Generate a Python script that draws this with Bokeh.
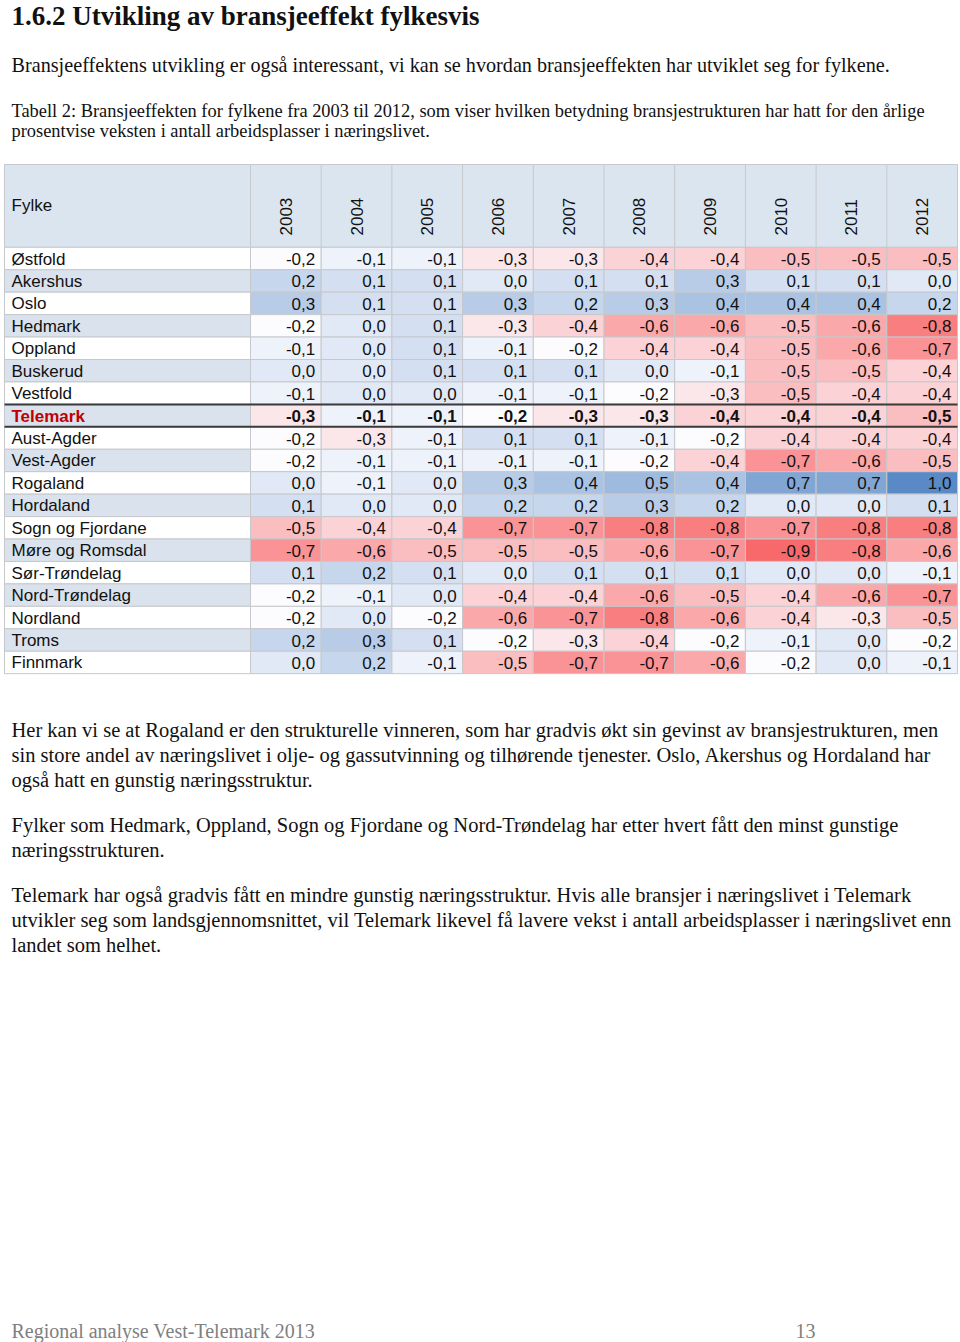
import numpy as np
from bokeh.plotting import figure
from bokeh.models import Range1d
from bokeh.core.properties import value
from bokeh.embed import file_html
from bokeh.resources import INLINE

# ---------------- data ----------------
years = ["2003", "2004", "2005", "2006", "2007", "2008", "2009", "2010", "2011", "2012"]
fylker = ["Østfold", "Akershus", "Oslo", "Hedmark", "Oppland", "Buskerud", "Vestfold",
          "Telemark", "Aust-Agder", "Vest-Agder", "Rogaland", "Hordaland",
          "Sogn og Fjordane", "Møre og Romsdal", "Sør-Trøndelag", "Nord-Trøndelag",
          "Nordland", "Troms", "Finnmark"]

ostfold = [-0.2, -0.1, -0.1, -0.3, -0.3, -0.4, -0.4, -0.5, -0.5, -0.5]
akershus = [0.2, 0.1, 0.1, 0.0, 0.1, 0.1, 0.3, 0.1, 0.1, 0.0]
oslo = [0.3, 0.1, 0.1, 0.3, 0.2, 0.3, 0.4, 0.4, 0.4, 0.2]
hedmark = [-0.2, 0.0, 0.1, -0.3, -0.4, -0.6, -0.6, -0.5, -0.6, -0.8]
oppland = [-0.1, 0.0, 0.1, -0.1, -0.2, -0.4, -0.4, -0.5, -0.6, -0.7]
buskerud = [0.0, 0.0, 0.1, 0.1, 0.1, 0.0, -0.1, -0.5, -0.5, -0.4]
vestfold = [-0.1, 0.0, 0.0, -0.1, -0.1, -0.2, -0.3, -0.5, -0.4, -0.4]
telemark = [-0.3, -0.1, -0.1, -0.2, -0.3, -0.3, -0.4, -0.4, -0.4, -0.5]
aust_agder = [-0.2, -0.3, -0.1, 0.1, 0.1, -0.1, -0.2, -0.4, -0.4, -0.4]
vest_agder = [-0.2, -0.1, -0.1, -0.1, -0.1, -0.2, -0.4, -0.7, -0.6, -0.5]
rogaland = [0.0, -0.1, 0.0, 0.3, 0.4, 0.5, 0.4, 0.7, 0.7, 1.0]
hordaland = [0.1, 0.0, 0.0, 0.2, 0.2, 0.3, 0.2, 0.0, 0.0, 0.1]
sogn_og_fjordane = [-0.5, -0.4, -0.4, -0.7, -0.7, -0.8, -0.8, -0.7, -0.8, -0.8]
more_og_romsdal = [-0.7, -0.6, -0.5, -0.5, -0.5, -0.6, -0.7, -0.9, -0.8, -0.6]
sor_trondelag = [0.1, 0.2, 0.1, 0.0, 0.1, 0.1, 0.1, 0.0, 0.0, -0.1]
nord_trondelag = [-0.2, -0.1, 0.0, -0.4, -0.4, -0.6, -0.5, -0.4, -0.6, -0.7]
nordland = [-0.2, 0.0, -0.2, -0.6, -0.7, -0.8, -0.6, -0.4, -0.3, -0.5]
troms = [0.2, 0.3, 0.1, -0.2, -0.3, -0.4, -0.2, -0.1, 0.0, -0.2]
finnmark = [0.0, 0.2, -0.1, -0.5, -0.7, -0.7, -0.6, -0.2, 0.0, -0.1]

rows = [ostfold, akershus, oslo, hedmark, oppland, buskerud, vestfold, telemark,
        aust_agder, vest_agder, rogaland, hordaland, sogn_og_fjordane, more_og_romsdal,
        sor_trondelag, nord_trondelag, nordland, troms, finnmark]
highlight = "Telemark"

title = "1.6.2 Utvikling av bransjeeffekt fylkesvis"
intro = "Bransjeeffektens utvikling er også interessant, vi kan se hvordan bransjeeffekten har utviklet seg for fylkene."
caption_lines = [
    "Tabell 2: Bransjeeffekten for fylkene fra 2003 til 2012, som viser hvilken betydning bransjestrukturen har hatt for den årlige",
    "prosentvise veksten i antall arbeidsplasser i næringslivet.",
]
para1 = [
    "Her kan vi se at Rogaland er den strukturelle vinneren, som har gradvis økt sin gevinst av bransjestrukturen, men",
    "sin store andel av næringslivet i olje- og gassutvinning og tilhørende tjenester. Oslo, Akershus og Hordaland har",
    "også hatt en gunstig næringsstruktur.",
]
para2 = [
    "Fylker som Hedmark, Oppland, Sogn og Fjordane og Nord-Trøndelag har etter hvert fått den minst gunstige",
    "næringsstrukturen.",
]
para3 = [
    "Telemark har også gradvis fått en mindre gunstig næringsstruktur. Hvis alle bransjer i næringslivet i Telemark",
    "utvikler seg som landsgjennomsnittet, vil Telemark likevel få lavere vekst i antall arbeidsplasser i næringslivet enn",
    "landet som helhet.",
]
footer_left = "Regional analyse Vest-Telemark 2013"
footer_right = "13"

# ---------------- colour scale (red - white - blue, midpoint = median) ----------------
vals = np.array(rows, dtype=float)
vmin, vmax, vmid = vals.min(), vals.max(), float(np.percentile(vals, 50))
C_MIN = np.array([0xF8, 0x69, 0x6B])
C_MID = np.array([0xFC, 0xFC, 0xFF])
C_MAX = np.array([0x5A, 0x8A, 0xC6])


def colour(v):
    if v <= vmid:
        t = (v - vmin) / (vmid - vmin)
        c = C_MIN + (C_MID - C_MIN) * t
    else:
        t = (v - vmid) / (vmax - vmid)
        c = C_MID + (C_MAX - C_MID) * t
    c = np.clip(np.round(c), 0, 255).astype(int)
    return "#%02x%02x%02x" % tuple(c)


def fmt(v):
    s = f"{v:.1f}".replace(".", ",")
    return "0,0" if s == "-0,0" else s


# ---------------- page ----------------
W, H = 960, 1342
p = figure(width=W, height=H, x_range=Range1d(0, W), y_range=Range1d(H, 0),
           output_backend="svg", toolbar_location=None, min_border=0)
p.axis.visible = False
p.grid.visible = False
p.outline_line_color = None
p.background_fill_color = "white"
p.border_fill_color = "white"

SERIF = value("Liberation Serif")
SANS = value("Liberation Sans")
LEFT = 11
INK = "#111111"

# texts above table
p.text(x=[LEFT], y=[15], text=[title], text_font=SERIF, text_font_size="27px",
       text_font_style="bold", text_color=INK, text_baseline="middle")
p.text(x=[LEFT], y=[64], text=[intro], text_font=SERIF, text_font_size="20.2px",
       text_color=INK, text_baseline="middle")
p.text(x=[LEFT] * len(caption_lines), y=[110.5 + 20 * i for i in range(len(caption_lines))],
       text=caption_lines, text_font=SERIF, text_font_size="18.4px", text_color=INK,
       text_baseline="middle")

# ---------------- table ----------------
T_LEFT, NAME_R, COL_W = 4, 250, 70.7
HEAD_T, HEAD_B, ROW_H = 164, 246.8, 22.44
n_rows, n_cols = len(fylker), len(years)
T_RIGHT = NAME_R + n_cols * COL_W
GRID = "#c6c8cc"

# header
p.quad(left=[T_LEFT], right=[T_RIGHT], top=[HEAD_T], bottom=[HEAD_B],
       fill_color="#dbe5f0", line_color=GRID, line_width=1)
p.segment(x0=[NAME_R + j * COL_W for j in range(n_cols)], y0=[HEAD_T] * n_cols,
          x1=[NAME_R + j * COL_W for j in range(n_cols)], y1=[HEAD_B] * n_cols,
          line_color=GRID, line_width=1)
p.text(x=[LEFT], y=[205], text=["Fylke"], text_font=SANS, text_font_size="17px",
       text_color=INK, text_baseline="middle")
p.text(x=[NAME_R + (j + 0.5) * COL_W for j in range(n_cols)], y=[235] * n_cols, text=years,
       angle=np.pi / 2, text_font=SANS, text_font_size="17px", text_color=INK,
       text_align="left", text_baseline="middle")

# name column
nl, nr, nt, nb, nf = [], [], [], [], []
for i, name in enumerate(fylker):
    nl.append(T_LEFT); nr.append(NAME_R)
    nt.append(HEAD_B + i * ROW_H); nb.append(HEAD_B + (i + 1) * ROW_H)
    nf.append("#ffffff" if i % 2 == 0 else "#d9e2ed")
p.quad(left=nl, right=nr, top=nt, bottom=nb, fill_color=nf, line_color=GRID, line_width=1)

# value cells
cl, cr, ct, cb, cf = [], [], [], [], []
tx, ty, tt, tw = [], [], [], []
for i, row in enumerate(rows):
    for j, v in enumerate(row):
        cl.append(NAME_R + j * COL_W); cr.append(NAME_R + (j + 1) * COL_W)
        ct.append(HEAD_B + i * ROW_H); cb.append(HEAD_B + (i + 1) * ROW_H)
        cf.append(colour(v))
        tx.append(NAME_R + (j + 1) * COL_W - 6)
        ty.append(HEAD_B + (i + 0.5) * ROW_H + 0.5)
        tt.append(fmt(v))
        tw.append("bold" if fylker[i] == highlight else "normal")
p.quad(left=cl, right=cr, top=ct, bottom=cb, fill_color=cf, line_color=GRID, line_width=1)
p.text(x=tx, y=ty, text=tt, text_font=SANS, text_font_size="17px", text_color=INK,
       text_font_style=tw, text_align="right", text_baseline="middle")

# names
p.text(x=[LEFT] * n_rows, y=[HEAD_B + (i + 0.5) * ROW_H + 0.5 for i in range(n_rows)],
       text=fylker, text_font=SANS, text_font_size="17px",
       text_color=["#c00000" if f == highlight else INK for f in fylker],
       text_font_style=["bold" if f == highlight else "normal" for f in fylker],
       text_baseline="middle")

# highlight lines round the Telemark row
hi = fylker.index(highlight)
p.segment(x0=[T_LEFT, T_LEFT], x1=[T_RIGHT, T_RIGHT],
          y0=[HEAD_B + hi * ROW_H, HEAD_B + (hi + 1) * ROW_H],
          y1=[HEAD_B + hi * ROW_H, HEAD_B + (hi + 1) * ROW_H],
          line_color="#3a3a3a", line_width=2)

# ---------------- texts below table ----------------
y0 = 729.5
for block in (para1, para2, para3):
    p.text(x=[LEFT] * len(block), y=[y0 + 25 * k for k in range(len(block))], text=block,
           text_font=SERIF, text_font_size="20.5px", text_color=INK,
           text_baseline="middle")
    y0 += 25 * len(block) + 20

p.text(x=[LEFT], y=[1330.5], text=[footer_left], text_font=SERIF, text_font_size="20px",
       text_color="#808080", text_baseline="middle")
p.text(x=[795], y=[1330.5], text=[footer_right], text_font=SERIF, text_font_size="20px",
       text_color="#808080", text_baseline="middle")

open("out.html", "w").write(file_html(p, INLINE))
